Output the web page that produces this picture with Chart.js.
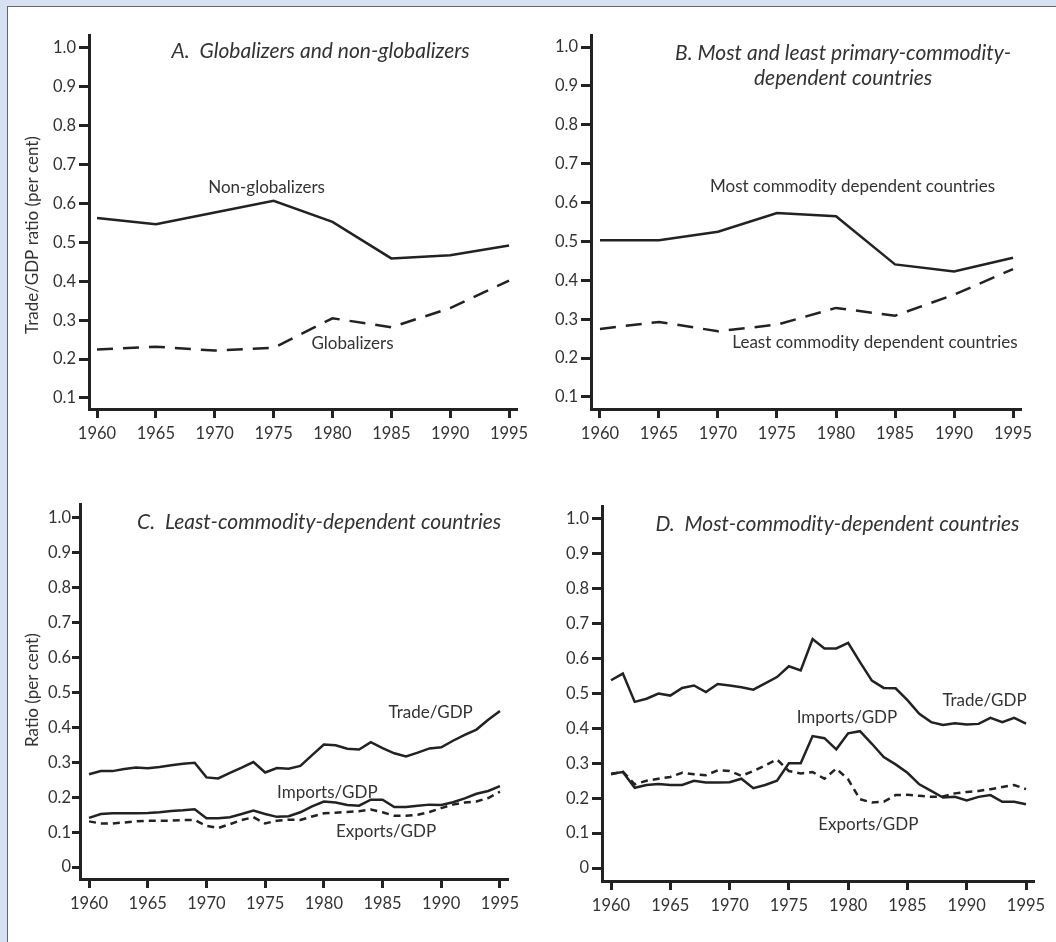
<!DOCTYPE html>
<html>
<head>
<meta charset="utf-8">
<script src="https://cdn.jsdelivr.net/npm/chart.js@4.4.1/dist/chart.umd.min.js"></script>
<style>
  html, body { margin: 0; padding: 0; }
  body { width: 1056px; height: 942px; background: #d6e2f1; position: relative; overflow: hidden; }
  #frame { position: absolute; left: 7px; top: 6px; width: 1060px; height: 950px; background: #fff; border: 1px solid #666; }
  canvas { position: absolute; }
</style>
</head>
<body>
<div id="frame"></div>
<canvas id="canvasA" style="left:8px;top:8px" width="532" height="446"></canvas>
<canvas id="canvasB" style="left:540px;top:8px" width="508" height="446"></canvas>
<canvas id="canvasC" style="left:8px;top:478px" width="527" height="446"></canvas>
<canvas id="canvasD" style="left:545px;top:478px" width="510" height="446"></canvas>
<script>
// panels A and B: five-year points
const yearsAB = [1960, 1965, 1970, 1975, 1980, 1985, 1990, 1995];
const nonGlobalizers = [0.563, 0.547, 0.577, 0.607, 0.553, 0.459, 0.467, 0.492];
const globalizers = [0.225, 0.232, 0.222, 0.229, 0.305, 0.282, 0.331, 0.402];
const mostDependent = [0.503, 0.503, 0.525, 0.573, 0.565, 0.441, 0.423, 0.458];
const leastDependent = [0.275, 0.293, 0.269, 0.286, 0.329, 0.309, 0.363, 0.429];

// panels C and D: yearly points
const yearsCD = [1960, 1961, 1962, 1963, 1964, 1965, 1966, 1967, 1968, 1969,
  1970, 1971, 1972, 1973, 1974, 1975, 1976, 1977, 1978, 1979,
  1980, 1981, 1982, 1983, 1984, 1985, 1986, 1987, 1988, 1989,
  1990, 1991, 1992, 1993, 1994, 1995];
const leastTrade = [0.266, 0.275, 0.275, 0.281, 0.285, 0.283, 0.287, 0.292, 0.296, 0.299,
  0.257, 0.254, 0.270, 0.285, 0.301, 0.271, 0.284, 0.282, 0.290, 0.321,
  0.351, 0.349, 0.339, 0.337, 0.358, 0.341, 0.326, 0.317, 0.328, 0.340,
  0.343, 0.362, 0.379, 0.394, 0.422, 0.447];
const leastImports = [0.141, 0.152, 0.154, 0.154, 0.154, 0.155, 0.157, 0.161, 0.163, 0.166,
  0.140, 0.140, 0.143, 0.152, 0.162, 0.152, 0.144, 0.146, 0.157, 0.174,
  0.188, 0.185, 0.178, 0.176, 0.193, 0.193, 0.172, 0.172, 0.176, 0.179,
  0.178, 0.186, 0.197, 0.210, 0.218, 0.232];
const leastExports = [0.131, 0.125, 0.125, 0.128, 0.131, 0.133, 0.133, 0.133, 0.135, 0.135,
  0.118, 0.112, 0.123, 0.135, 0.143, 0.125, 0.133, 0.136, 0.135, 0.145,
  0.154, 0.156, 0.158, 0.160, 0.165, 0.157, 0.147, 0.147, 0.150, 0.158,
  0.169, 0.179, 0.185, 0.188, 0.198, 0.216];
const mostTrade = [0.538, 0.557, 0.476, 0.485, 0.500, 0.494, 0.516, 0.523, 0.504, 0.527,
  0.523, 0.518, 0.511, 0.529, 0.547, 0.578, 0.566, 0.656, 0.629, 0.629,
  0.645, 0.590, 0.537, 0.516, 0.515, 0.481, 0.442, 0.418, 0.410, 0.415,
  0.411, 0.413, 0.430, 0.418, 0.430, 0.414];
const mostImports = [0.270, 0.275, 0.230, 0.238, 0.241, 0.238, 0.238, 0.250, 0.245, 0.245,
  0.246, 0.256, 0.229, 0.238, 0.250, 0.300, 0.300, 0.378, 0.372, 0.340,
  0.386, 0.392, 0.356, 0.318, 0.297, 0.273, 0.240, 0.221, 0.202, 0.204,
  0.194, 0.204, 0.209, 0.190, 0.190, 0.183];
const mostExports = [0.269, 0.276, 0.240, 0.250, 0.256, 0.261, 0.273, 0.269, 0.266, 0.280,
  0.278, 0.264, 0.278, 0.294, 0.311, 0.278, 0.271, 0.275, 0.256, 0.285,
  0.254, 0.197, 0.188, 0.190, 0.209, 0.210, 0.207, 0.204, 0.205, 0.214,
  0.218, 0.221, 0.226, 0.232, 0.238, 0.226];

const xTicks = [1960, 1965, 1970, 1975, 1980, 1985, 1990, 1995];
const yTicksAB = [0.1, 0.2, 0.3, 0.4, 0.5, 0.6, 0.7, 0.8, 0.9, 1.0];
const yTicksCD = [0, 0.1, 0.2, 0.3, 0.4, 0.5, 0.6, 0.7, 0.8, 0.9, 1.0];

const INK = '#222';
const TEXT = '#333';
const FONT = 'Lato';

// draws panel titles, line labels and the rotated y axis title
const panelText = {
  id: 'panelText',
  afterDraw(chart, args, opts) {
    const { ctx, chartArea } = chart;
    const x = chart.scales.x, y = chart.scales.y;
    ctx.save();
    ctx.fillStyle = TEXT;
    ctx.textAlign = 'center';
    ctx.textBaseline = 'middle';
    ctx.font = 'italic 21px ' + FONT;
    opts.title.forEach((line, i) => {
      ctx.fillText(line, x.getPixelForValue(opts.titleAt[0]), y.getPixelForValue(opts.titleAt[1]) + i * 25);
    });
    ctx.font = '17px ' + FONT;
    opts.notes.forEach(n => {
      ctx.fillText(n.text, x.getPixelForValue(n.at[0]), y.getPixelForValue(n.at[1]));
    });
    if (opts.axisTitle) {
      ctx.translate(chartArea.left - opts.axisTitleGap, y.getPixelForValue(opts.axisTitleMid));
      ctx.rotate(-Math.PI / 2);
      ctx.font = '17px ' + FONT;
      ctx.fillText(opts.axisTitle, 0, 0);
    }
    ctx.restore();
  }
};

function series(xs, ys, dash) {
  return {
    data: xs.map((v, i) => ({ x: v, y: ys[i] })),
    borderColor: INK,
    borderWidth: 2.5,
    borderDash: dash || [],
    pointRadius: 0,
    tension: 0,
    fill: false
  };
}

function createPanel(id, datasets, p) {
  new Chart(document.getElementById(id), {
    type: 'line',
    data: { datasets: datasets },
    plugins: [panelText],
    options: {
      responsive: false,
      animation: false,
      devicePixelRatio: 1,
      layout: { padding: { top: p.padTop, right: p.padRight, left: 0, bottom: 0 } },
      plugins: {
        legend: { display: false },
        tooltip: { enabled: false },
        panelText: p.text
      },
      scales: {
        x: {
          type: 'linear',
          min: p.xMin,
          max: p.xMax,
          afterBuildTicks: s => { s.ticks = xTicks.map(v => ({ value: v })); },
          afterFit: s => { s.height = p.xh; },
          grid: { drawOnChartArea: false, drawTicks: true, tickLength: 9, lineWidth: 3, color: INK },
          border: { display: true, width: 3, color: INK },
          ticks: { color: TEXT, font: { family: FONT, size: 16.5 }, padding: 6, maxRotation: 0, autoSkip: false,
            callback: v => String(v) }
        },
        y: {
          type: 'linear',
          min: p.yMin,
          max: p.yMax,
          afterBuildTicks: s => { s.ticks = p.yTicks.map(v => ({ value: v })); },
          afterFit: s => { s.width = p.yw; },
          grid: { drawOnChartArea: false, drawTicks: true, tickLength: p.yTickLen, lineWidth: 3, color: INK },
          border: { display: true, width: 3, color: INK },
          ticks: { color: TEXT, font: { family: FONT, size: 16.5 }, padding: p.yPad, autoSkip: false,
            callback: v => (v === 0 ? '0' : v.toFixed(1)) }
        }
      }
    }
  });
}

createPanel('canvasA', [
  series(yearsAB, nonGlobalizers),
  series(yearsAB, globalizers, [16, 10])
], {
  padTop: 27, padRight: 24, yw: 81, xh: 45, yTickLen: 10, yPad: 3,
  xMin: 1959.32, xMax: 1995.59, yMin: 0.0717, yMax: 1.0334, yTicks: yTicksAB,
  text: {
    title: ['A.  Globalizers and non-globalizers'], titleAt: [1979.0, 0.992],
    notes: [
      { text: 'Non-globalizers', at: [1974.4, 0.64] },
      { text: 'Globalizers', at: [1981.7, 0.241] }
    ],
    axisTitle: 'Trade/GDP ratio (per cent)', axisTitleGap: 56, axisTitleMid: 0.519
  }
});

createPanel('canvasB', [
  series(yearsAB, mostDependent),
  series(yearsAB, leastDependent, [16, 10])
], {
  padTop: 27, padRight: 28, yw: 51, xh: 45, yTickLen: 10, yPad: 3,
  xMin: 1959.24, xMax: 1995.59, yMin: 0.069, yMax: 1.031, yTicks: yTicksAB,
  text: {
    title: ['B. Most and least primary-commodity-', 'dependent countries'], titleAt: [1980.6, 0.984],
    notes: [
      { text: 'Most commodity dependent countries', at: [1981.4, 0.640] },
      { text: 'Least commodity dependent countries', at: [1983.3, 0.239] }
    ]
  }
});

createPanel('canvasC', [
  series(yearsCD, leastTrade),
  series(yearsCD, leastImports),
  series(yearsCD, leastExports, [7, 5])
], {
  padTop: 26, padRight: 28, yw: 72, xh: 45, yTickLen: 8, yPad: 1,
  xMin: 1959.23, xMax: 1995.6, yMin: -0.034, yMax: 1.040, yTicks: yTicksCD,
  text: {
    title: ['C.  Least-commodity-dependent countries'], titleAt: [1979.6, 0.989],
    notes: [
      { text: 'Trade/GDP', at: [1989.1, 0.444] },
      { text: 'Imports/GDP', at: [1980.3, 0.215] },
      { text: 'Exports/GDP', at: [1985.3, 0.103] }
    ],
    axisTitle: 'Ratio (per cent)', axisTitleGap: 47, axisTitleMid: 0.507
  }
});

createPanel('canvasD', [
  series(yearsCD, mostTrade),
  series(yearsCD, mostImports),
  series(yearsCD, mostExports, [7, 5])
], {
  padTop: 28, padRight: 22, yw: 57, xh: 43, yTickLen: 10, yPad: 3,
  xMin: 1959.24, xMax: 1995.59, yMin: -0.037, yMax: 1.037, yTicks: yTicksCD,
  text: {
    title: ['D.  Most-commodity-dependent countries'], titleAt: [1979.1, 0.986],
    notes: [
      { text: 'Trade/GDP', at: [1991.5, 0.481] },
      { text: 'Imports/GDP', at: [1979.9, 0.430] },
      { text: 'Exports/GDP', at: [1981.7, 0.126] }
    ]
  }
});
</script>
</body>
</html>
